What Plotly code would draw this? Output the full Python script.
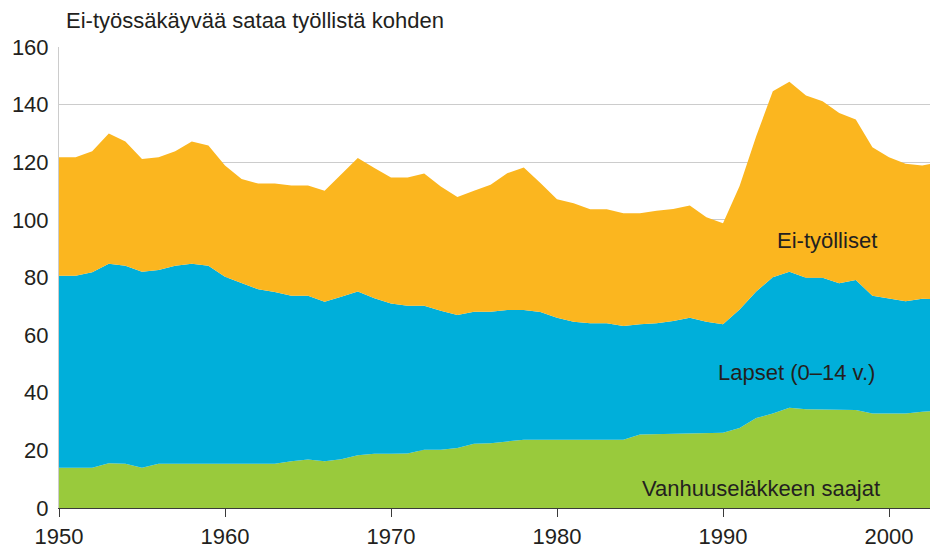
import plotly.graph_objects as go

years = list(range(1950, 2004))

# Vanhuuseläkkeen saajat (pensioners)
pensioners = [14.0, 14.0, 14.0, 15.5, 15.4, 14.0, 15.4, 15.4, 15.4, 15.4,
              15.4, 15.4, 15.4, 15.4, 16.2, 16.8, 16.2, 16.9, 18.3, 18.8,
              18.8, 18.9, 20.2, 20.2, 20.8, 22.3, 22.5, 23.2, 23.7, 23.7,
              23.7, 23.7, 23.7, 23.7, 23.7, 25.5, 25.6, 25.8, 25.9, 25.9,
              26.1, 27.8, 31.2, 32.8, 34.8, 34.3, 34.2, 34.2, 34.0, 32.8,
              32.8, 32.8, 33.4, 33.7]

# Lapset (0–14 v.) (children)
children = [66.6, 66.6, 67.8, 69.3, 68.7, 68.0, 67.2, 68.7, 69.4, 68.7,
            64.9, 62.6, 60.5, 59.6, 57.5, 56.9, 55.4, 56.4, 56.8, 54.0,
            52.2, 51.3, 50.0, 48.3, 46.2, 45.8, 45.6, 45.5, 45.0, 44.3,
            42.3, 40.9, 40.4, 40.4, 39.5, 38.3, 38.5, 39.1, 40.1, 38.7,
            37.7, 41.1, 43.9, 47.3, 47.2, 45.6, 45.7, 43.8, 45.1, 40.9,
            40.0, 39.0, 39.2, 38.8]

# Ei-työlliset (non-employed)
nonemployed = [41.1, 41.1, 42.0, 45.2, 43.1, 39.1, 39.1, 39.7, 42.4, 41.7,
               38.6, 36.2, 36.7, 37.6, 38.2, 38.2, 38.5, 42.4, 46.4, 45.2,
               43.7, 44.5, 45.9, 43.1, 40.9, 42.0, 44.1, 47.5, 49.5, 44.8,
               41.2, 41.2, 39.6, 39.6, 39.1, 38.5, 39.1, 38.9, 39.0, 36.3,
               35.0, 42.9, 53.9, 64.5, 65.9, 63.3, 61.3, 59.1, 55.7, 51.5,
               48.9, 47.7, 46.3, 47.5]

series_names = ["Vanhuuseläkkeen saajat", "Lapset (0–14 v.)", "Ei-työlliset"]
series_colors = ["#99CA3C", "#00AFDA", "#FBB61F"]
y_ticks = [0, 20, 40, 60, 80, 100, 120, 140, 160]
x_ticks = [1950, 1960, 1970, 1980, 1990, 2000]
title_text = "Ei-työssäkäyvää sataa työllistä kohden"

FONT = "Liberation Sans, Arial, sans-serif"
TXT = "#231F20"

fig = go.Figure()
for name, vals, col in zip(series_names, [pensioners, children, nonemployed], series_colors):
    fig.add_trace(go.Scatter(
        x=years, y=vals, name=name, mode="lines",
        stackgroup="one", line=dict(width=0, color=col),
        fillcolor=col, hoverinfo="x+y+name",
    ))

# Series labels
fig.add_annotation(x=1996.27, y=92.7, xref="x", yref="y", text="Ei-työlliset",
                   showarrow=False, xanchor="center", yanchor="middle",
                   font=dict(family=FONT, size=22, color=TXT))
fig.add_annotation(x=1994.4, y=47.1, xref="x", yref="y", text="Lapset (0–14 v.)",
                   showarrow=False, xanchor="center", yanchor="middle",
                   font=dict(family=FONT, size=22, color=TXT))
fig.add_annotation(x=1992.26, y=6.8, xref="x", yref="y", text="Vanhuuseläkkeen saajat",
                   showarrow=False, xanchor="center", yanchor="middle",
                   font=dict(family=FONT, size=22, color=TXT))
# Axis title at top-left
fig.add_annotation(x=0.006, y=1.0576, xref="paper", yref="paper", text=title_text,
                   showarrow=False, xanchor="left", yanchor="middle",
                   font=dict(family=FONT, size=22, color=TXT))

fig.update_layout(
    width=930, height=549,
    margin=dict(l=59, r=0, t=47, b=41),
    paper_bgcolor="white", plot_bgcolor="white",
    showlegend=False,
    font=dict(family=FONT, size=22, color=TXT),
    xaxis=dict(
        range=[1950, 2002.47], tickmode="array", tickvals=x_ticks,
        ticktext=[str(t) for t in x_ticks],
        showgrid=False, zeroline=False, automargin=False,
        showline=True, linecolor="#3a3a3a", linewidth=1.3,
        ticks="outside", ticklen=8, tickcolor="#3a3a3a", tickwidth=1.3,
        tickfont=dict(family=FONT, size=22, color=TXT),
    ),
    yaxis=dict(
        range=[0, 160], tickmode="array", tickvals=y_ticks,
        ticktext=[str(t) for t in y_ticks],
        showgrid=True, gridcolor="#CCCCCC", gridwidth=1,
        zeroline=False, showline=True, linecolor="#CCCCCC", linewidth=1,
        automargin=False,
        layer="below traces", ticks="", ticklabelstandoff=5,
        tickfont=dict(family=FONT, size=22, color=TXT),
    ),
)

fig.write_html("out.html",
               config={"displayModeBar": False},
               post_script="document.body.style.margin='0';document.body.style.overflow='hidden';")
